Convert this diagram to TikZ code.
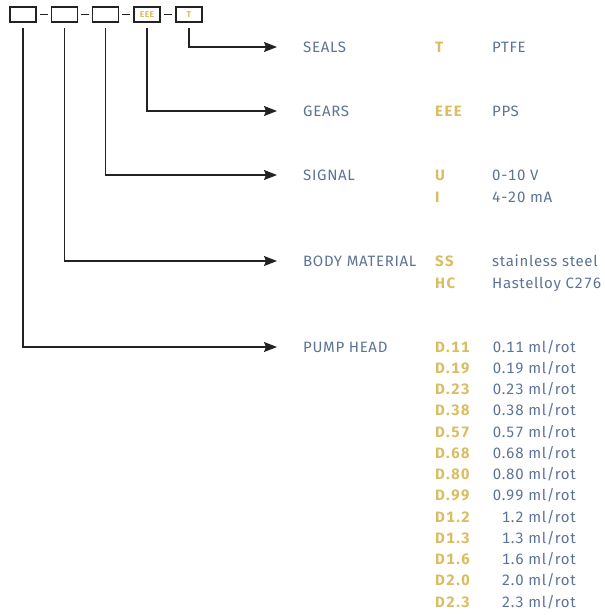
\documentclass[tikz,border=0pt]{standalone}
\usepackage{fontspec}
\setmainfont[Numbers=Monospaced, LetterSpace=4.5]{Fira Sans}
\usetikzlibrary{arrows.meta, positioning}
\definecolor{labelblue}{HTML}{5B7396}
\definecolor{codegold}{HTML}{D9BD62}
\definecolor{linegray}{HTML}{222222}

\begin{document}
\begin{tikzpicture}[x=1pt, y=-1pt,
	codebox/.style={draw=linegray, line width=1.2pt, minimum width=26pt, minimum height=15pt, inner sep=0pt, text=codegold, font=\bfseries\fontsize{8.5}{8.5}\selectfont},
	leader/.style={draw=linegray, line width=1.2pt, shorten <=5pt, shorten >=26pt, -{Stealth[length=13pt, width=10pt, inset=2pt]}},
	grouptext/.style={anchor=west, inner sep=0pt, text=labelblue, font=\fontsize{15}{15}\selectfont},
	codetext/.style={anchor=base west, inner sep=0pt, text=codegold, font=\bfseries\fontsize{15}{15}\selectfont\addfontfeature{LetterSpace=10}},
	valtext/.style={anchor=base west, inner sep=0pt, text=labelblue, font=\fontsize{15}{15}\selectfont},
	flowtext/.style={valtext, anchor=base east}]
		\useasboundingbox (0, 0) rectangle (605, 616);
		% order code boxes
		\node[codebox] (pos_head) at (23, 14.5) {};
		\node[codebox] (pos_body) at (64.5, 14.5) {};
		\node[codebox] (pos_signal) at (105.5, 14.5) {};
		\node[codebox] (pos_gears) at (147, 14.5) {EEE};
		\node[codebox] (pos_seals) at (189, 14.5) {T};
		\draw[linegray, line width=1.2pt, shorten <=3pt, shorten >=3pt] (pos_head) -- (pos_body);
		\draw[linegray, line width=1.2pt, shorten <=3pt, shorten >=3pt] (pos_body) -- (pos_signal);
		\draw[linegray, line width=1.2pt, shorten <=3pt, shorten >=3pt] (pos_signal) -- (pos_gears);
		\draw[linegray, line width=1.2pt, shorten <=3pt, shorten >=3pt] (pos_gears) -- (pos_seals);
		% option groups
		\node[grouptext] (seals) at (303, 47) {SEALS};
		\node[grouptext] (gears) at (303, 111) {GEARS};
		\node[grouptext] (signal) at (303, 175) {SIGNAL};
		\node[grouptext] (body) at (303, 261) {BODY MATERIAL};
		\node[grouptext] (head) at (303, 347) {PUMP HEAD};
		\draw[leader] (pos_seals.south) |- (seals.west);
		\draw[leader] (pos_gears.south) |- (gears.west);
		\draw[leader] (pos_signal.south) |- (signal.west);
		\draw[leader] (pos_body.south) |- (body.west);
		\draw[leader] (pos_head.south) |- (head.west);
		% seals, gears, signal, body
		\node[codetext] (seals_t) at (435, 52) {T};
		\node[valtext] (seals_t_val) at (492, 52) {PTFE};
		\node[codetext] (gears_eee) at (435, 116) {EEE};
		\node[valtext] (gears_eee_val) at (492, 116) {PPS};
		\node[codetext] (signal_u) at (435, 180) {U};
		\node[valtext] (signal_u_val) at (492, 180) {0-10 V};
		\node[codetext] (signal_i) at (435, 202) {I};
		\node[valtext] (signal_i_val) at (492, 202) {4-20 mA};
		\node[codetext] (body_ss) at (435, 266) {SS};
		\node[valtext] (body_ss_val) at (492, 266) {stainless steel};
		\node[codetext] (body_hc) at (435, 288) {HC};
		\node[valtext] (body_hc_val) at (492, 288) {Hastelloy C276};
		% pump head sizes
		\node[codetext] (head_d11) at (435, 352) {D.11};
		\node[flowtext] (head_d11_val) at (576, 352) {0.11 ml/rot};
		\node[codetext] (head_d19) at (435, 373.3) {D.19};
		\node[flowtext] (head_d19_val) at (576, 373.3) {0.19 ml/rot};
		\node[codetext] (head_d23) at (435, 394.5) {D.23};
		\node[flowtext] (head_d23_val) at (576, 394.5) {0.23 ml/rot};
		\node[codetext] (head_d38) at (435, 415.8) {D.38};
		\node[flowtext] (head_d38_val) at (576, 415.8) {0.38 ml/rot};
		\node[codetext] (head_d57) at (435, 437) {D.57};
		\node[flowtext] (head_d57_val) at (576, 437) {0.57 ml/rot};
		\node[codetext] (head_d68) at (435, 458.3) {D.68};
		\node[flowtext] (head_d68_val) at (576, 458.3) {0.68 ml/rot};
		\node[codetext] (head_d80) at (435, 479.5) {D.80};
		\node[flowtext] (head_d80_val) at (576, 479.5) {0.80 ml/rot};
		\node[codetext] (head_d99) at (435, 500.8) {D.99};
		\node[flowtext] (head_d99_val) at (576, 500.8) {0.99 ml/rot};
		\node[codetext] (head_d12) at (435, 522) {D1.2};
		\node[flowtext] (head_d12_val) at (576, 522) {1.2 ml/rot};
		\node[codetext] (head_d13) at (435, 543.3) {D1.3};
		\node[flowtext] (head_d13_val) at (576, 543.3) {1.3 ml/rot};
		\node[codetext] (head_d16) at (435, 564.5) {D1.6};
		\node[flowtext] (head_d16_val) at (576, 564.5) {1.6 ml/rot};
		\node[codetext] (head_d20) at (435, 585.8) {D2.0};
		\node[flowtext] (head_d20_val) at (576, 585.8) {2.0 ml/rot};
		\node[codetext] (head_d23b) at (435, 607) {D2.3};
		\node[flowtext] (head_d23b_val) at (576, 607) {2.3 ml/rot};
	\end{tikzpicture}
\end{document}
